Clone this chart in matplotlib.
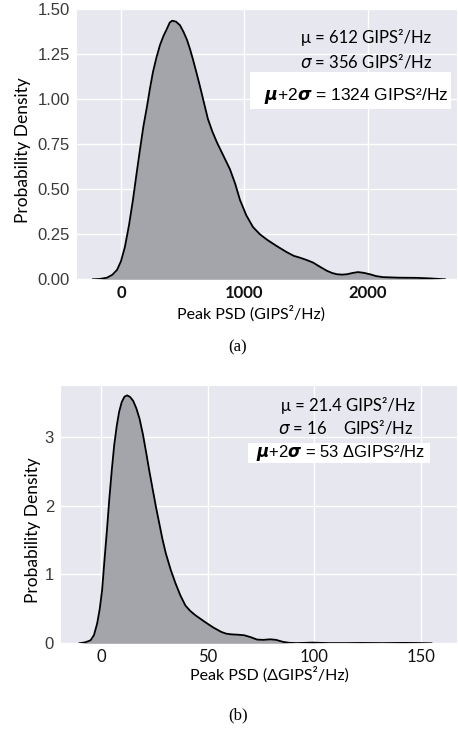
import matplotlib
matplotlib.use("Agg")
import matplotlib.pyplot as plt
from matplotlib.patches import Rectangle

plt.rcParams['mathtext.fontset'] = 'dejavusans'

W, H = 458, 729

# ---- data ----
a_x = [-227, -170, -113, -70, -32, 0, 32, 65, 97, 125, 154, 182, 211, 235, 259,
       287, 316, 344, 372, 395, 415, 445, 478, 505, 534, 558, 583, 612, 640, 672,
       704, 740, 777, 830, 883, 925, 964, 1015, 1069, 1125, 1182, 1260, 1344,
       1400, 1449, 1500, 1555, 1610, 1668, 1710, 1749, 1790, 1830, 1875, 1919,
       1965, 2016, 2065, 2121, 2250, 2397, 2500, 2623]
a_y = [0.0, 0.002, 0.009, 0.025, 0.052, 0.10, 0.18, 0.30, 0.44, 0.58, 0.72, 0.85,
       0.96, 1.06, 1.15, 1.23, 1.30, 1.35, 1.39, 1.425, 1.435, 1.43, 1.41, 1.375,
       1.33, 1.28, 1.22, 1.145, 1.07, 0.98, 0.89, 0.82, 0.76, 0.685, 0.61, 0.53,
       0.44, 0.355, 0.29, 0.25, 0.22, 0.185, 0.15, 0.13, 0.12, 0.108, 0.093,
       0.07, 0.047, 0.035, 0.028, 0.026, 0.028, 0.035, 0.04, 0.036, 0.028, 0.018,
       0.012, 0.009, 0.008, 0.005, 0.0]

b_x = [-10.4, -7.5, -5.1, -3.5, -2.0, -0.8, 0.3, 1.4, 2.6, 3.7, 4.9, 6.0, 7.2,
       8.3, 9.5, 10.8, 12.1, 13.5, 14.9, 16.4, 17.9, 19.5, 21.0, 22.5, 24.1, 25.6,
       27.1, 28.6, 30.2, 32.5, 34.8, 37.0, 39.4, 41.7, 44.0, 46.3, 48.6, 52.5,
       56.3, 58.6, 60.9, 64.0, 67.0, 70.0, 73.1, 76.0, 79.3, 82.0, 85.4, 88.0,
       91.5, 95.0, 99.2, 103.0, 106.9, 115.0, 122.0, 132.0, 142.0, 148.0, 155.0]
b_y = [0.0, 0.015, 0.044, 0.12, 0.29, 0.50, 0.77, 1.20, 1.65, 2.10, 2.53, 2.88,
       3.16, 3.36, 3.50, 3.58, 3.60, 3.575, 3.52, 3.41, 3.26, 3.03, 2.77, 2.50,
       2.23, 1.98, 1.75, 1.52, 1.31, 1.07, 0.87, 0.70, 0.55, 0.47, 0.41, 0.36,
       0.31, 0.23, 0.165, 0.14, 0.13, 0.125, 0.117, 0.09, 0.054, 0.05, 0.058,
       0.05, 0.02, 0.008, 0.003, 0.006, 0.01, 0.006, 0.003, 0.003, 0.005, 0.003,
       0.006, 0.004, 0.0]

a_yticks = [0.0, 0.25, 0.5, 0.75, 1.0, 1.25, 1.5]
a_yticklabels = ['0.00', '0.25', '0.50', '0.75', '1.00', '1.25', '1.50']
a_xticks = [0, 1000, 2000]
b_yticks = [0, 1, 2, 3]
b_xticks = [0, 50, 100, 150]

a_label = 'Peak PSD (GIPS\u00b2/Hz)'
b_label = 'Peak PSD (\u0394GIPS\u00b2/Hz)'
ylab = 'Probability Density'
a_lines = ['\u03bc = 612 GIPS\u00b2/Hz', r'$\sigma$' + ' = 356 GIPS\u00b2/Hz']
a_box = r'$\mathbfit{\mu}$+2$\mathbfit{\sigma}$' + ' = 1324 GIPS\u00b2/Hz'
b_lines = ['\u03bc = 21.4 GIPS\u00b2/Hz', r'$\sigma$' + ' = 16    GIPS\u00b2/Hz']
b_box = r'$\mathbfit{\mu}$+2$\mathbfit{\sigma}$' + ' = 53 \u0394GIPS\u00b2/Hz'

BG = '#e7e7f0'
FILL = '#a4a4ab'
SANS = ['Lato', 'DejaVu Sans']
ARIAL = ['Liberation Sans', 'DejaVu Sans']
SERIF = ['Liberation Serif', 'DejaVu Serif']

fig = plt.figure(figsize=(W / 100, H / 100), dpi=100)


def fx(px):
    return px / W


def fy(py):
    return 1 - py / H


def make_axes(l, t, r, b):
    ax = fig.add_axes([fx(l), fy(b), fx(r) - fx(l), (b - t) / H])
    ax.set_facecolor(BG)
    for s in ax.spines.values():
        s.set_visible(False)
    ax.grid(True, color='white', lw=1.0)
    ax.set_axisbelow(True)
    ax.tick_params(length=0)
    return ax


# ---- panel (a) ----
ax1 = make_axes(77, 9, 457, 279.3)
ax1.fill_between(a_x, a_y, 0, color=FILL, lw=0, zorder=2)
ax1.plot(a_x, a_y, color='black', lw=1.3, zorder=3, solid_joinstyle='round')
ax1.set_xlim(-356, 2721)
ax1.set_ylim(0, 1.5)
ax1.set_yticks(a_yticks)
ax1.set_yticklabels(a_yticklabels, fontfamily=ARIAL, fontsize=12, color='#3a3a3a')
ax1.set_xticks(a_xticks)
ax1.set_xticklabels([str(v) for v in a_xticks], fontfamily=SANS, fontsize=12,
                    fontweight='bold', color='#111111')
ax1.tick_params(axis='y', pad=5)
ax1.tick_params(axis='x', pad=4)

# ---- panel (b) ----
ax2 = make_axes(61, 385.7, 457, 643.3)
ax2.fill_between(b_x, b_y, 0, color=FILL, lw=0, zorder=2)
ax2.plot(b_x, b_y, color='black', lw=1.3, zorder=3, solid_joinstyle='round')
ax2.set_xlim(-19, 167)
ax2.set_ylim(0, 3.74)
ax2.set_yticks(b_yticks)
ax2.set_yticklabels([str(v) for v in b_yticks], fontfamily=ARIAL, fontsize=12,
                    color='#3a3a3a')
ax2.set_xticks(b_xticks)
ax2.set_xticklabels([str(v) for v in b_xticks], fontfamily=SANS, fontsize=12,
                    color='#111111')
ax2.tick_params(axis='y', pad=5)
ax2.tick_params(axis='x', pad=4)

# ---- labels ----
fig.text(fx(251), fy(314), a_label, ha='center', va='center', fontfamily=SANS, fontsize=11.5)
fig.text(fx(269), fy(675), b_label, ha='center', va='center', fontfamily=SANS, fontsize=11.5)
fig.text(fx(23), fy(150), ylab, ha='center', va='center', rotation=90, fontfamily=SANS, fontsize=12.5)
fig.text(fx(33), fy(530), ylab, ha='center', va='center', rotation=90, fontfamily=SANS, fontsize=12.5)
fig.text(fx(238), fy(347), '(a)', ha='center', va='center', fontfamily=SERIF, fontsize=12)
fig.text(fx(238), fy(715), '(b)', ha='center', va='center', fontfamily=SERIF, fontsize=12)

# ---- annotations ----
fig.text(fx(366), fy(37), a_lines[0], ha='center', va='center', fontfamily=SANS, fontsize=12)
fig.text(fx(366), fy(62), a_lines[1], ha='center', va='center', fontfamily=SANS, fontsize=12)
fig.add_artist(Rectangle((fx(250), fy(109)), (451 - 250) / W, (109 - 72) / H,
                         transform=fig.transFigure, facecolor='white', edgecolor='none', zorder=4))
fig.text(fx(356), fy(96), a_box, ha='center', va='center', fontfamily=ARIAL, fontsize=12.5, zorder=5)

fig.text(fx(348), fy(406), b_lines[0], ha='center', va='center', fontfamily=SANS, fontsize=12)
fig.text(fx(346), fy(427), b_lines[1], ha='center', va='center', fontfamily=SANS, fontsize=12)
fig.add_artist(Rectangle((fx(248), fy(463)), (430 - 248) / W, (463 - 443) / H,
                         transform=fig.transFigure, facecolor='white', edgecolor='none', zorder=4))
fig.text(fx(341), fy(453), b_box, ha='center', va='center', fontfamily=ARIAL, fontsize=12, zorder=5)

fig.savefig('out.png', dpi=100)
